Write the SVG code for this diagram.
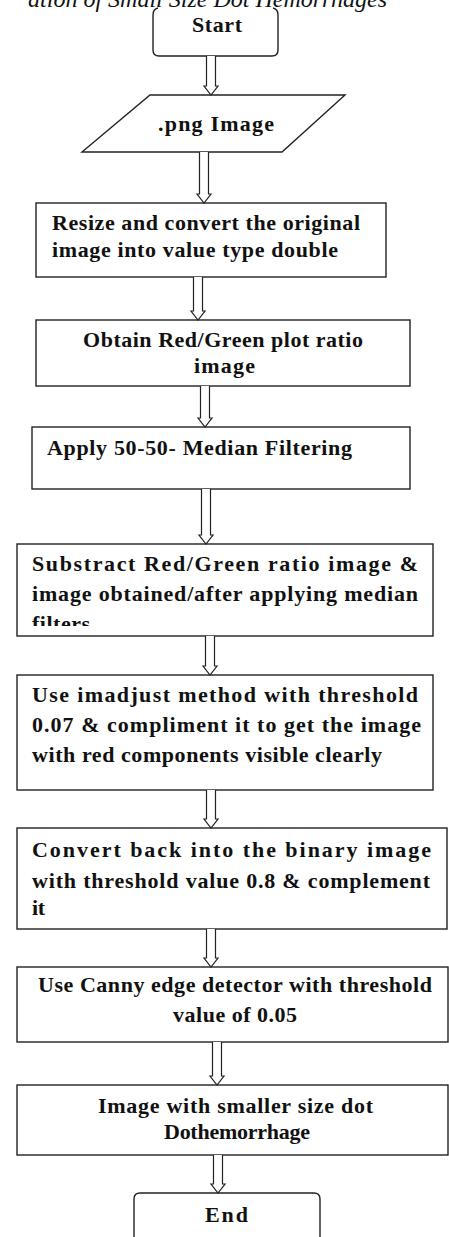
<svg xmlns="http://www.w3.org/2000/svg" width="449" height="1237" viewBox="0 0 449 1237">
<style>
.box{fill:#fff;stroke:#222;stroke-width:1.4}
.t{font-family:"Liberation Serif","Times New Roman",serif;font-weight:bold;font-size:22px;fill:#111}
.arr{fill:#fff;stroke:#222;stroke-width:1.2;stroke-linejoin:miter}
.title{font-family:"Liberation Serif","Times New Roman",serif;font-style:italic;font-size:24px;fill:#111}
</style>
<defs>
<clipPath id="clip4"><rect x="0" y="540" width="449" height="86"/></clipPath>
</defs>
<rect width="449" height="1237" fill="#fff"/>
<text class="title" x="387" y="7" text-anchor="end">ation of Small Size Dot Hemorrhages</text>

<g id="start">
<path class="box" d="M158,8 Q153,9 153,15 V50 Q153,56 159,56 H272 Q278,56 278,50 V15 Q278,9 273,8"/>
<text class="t" x="192" y="32" textLength="50" lengthAdjust="spacing">Start</text>
</g>

<g id="input">
<polygon class="box" points="150,95 345,95 282,152 82,152"/>
<text class="t" x="158" y="131" textLength="116" lengthAdjust="spacing">.png  Image</text>
</g>

<g id="resize">
<rect class="box" x="36" y="203" width="350" height="74"/>
<text class="t" x="52" y="230" textLength="308" lengthAdjust="spacing">Resize and convert the original</text>
<text class="t" x="52" y="257" textLength="286" lengthAdjust="spacing">image into value type double</text>
</g>

<g id="ratio">
<rect class="box" x="36" y="320" width="374" height="66"/>
<text class="t" x="83" y="347" textLength="280" lengthAdjust="spacing">Obtain Red/Green plot ratio</text>
<text class="t" x="194" y="373" textLength="61" lengthAdjust="spacing">image</text>
</g>

<g id="median">
<rect class="box" x="32" y="427" width="378" height="62"/>
<text class="t" x="47" y="455" textLength="305" lengthAdjust="spacing">Apply 50-50- Median Filtering</text>
</g>

<g id="subtract">
<rect class="box" x="17" y="544" width="416" height="92"/>
<text class="t" x="32" y="571" textLength="386" lengthAdjust="spacing">Substract Red/Green ratio image &amp;</text>
<text class="t" x="32" y="601" textLength="386" lengthAdjust="spacing">image obtained/after applying median</text>
<text class="t" x="32" y="631" textLength="58" lengthAdjust="spacing" clip-path="url(#clip4)">filters</text>
</g>

<g id="imadjust">
<rect class="box" x="17" y="675" width="416" height="115"/>
<text class="t" x="32" y="702" textLength="386" lengthAdjust="spacing">Use imadjust method with threshold</text>
<text class="t" x="32" y="732" textLength="389" lengthAdjust="spacing">0.07 &amp; compliment it to get the image</text>
<text class="t" x="32" y="762" textLength="350" lengthAdjust="spacing">with red components visible clearly</text>
</g>

<g id="binary">
<rect class="box" x="17" y="828" width="430" height="101"/>
<text class="t" x="32" y="857" textLength="399" lengthAdjust="spacing">Convert back into the binary image</text>
<text class="t" x="32" y="888" textLength="398" lengthAdjust="spacing">with threshold value 0.8 &amp; complement</text>
<text class="t" x="32" y="915" textLength="13" lengthAdjust="spacing">it</text>
</g>

<g id="canny">
<rect class="box" x="17" y="967" width="431" height="75"/>
<text class="t" x="38" y="992" textLength="394" lengthAdjust="spacing">Use Canny edge detector with threshold</text>
<text class="t" x="173" y="1022" textLength="124" lengthAdjust="spacing">value of 0.05</text>
</g>

<g id="result">
<rect class="box" x="17" y="1085" width="431" height="70"/>
<text class="t" x="98" y="1113" textLength="275" lengthAdjust="spacing">Image with smaller size dot</text>
<text class="t" x="164" y="1139" font-size="19" textLength="146" lengthAdjust="spacing">Dothemorrhage</text>
</g>

<g id="end">
<path class="box" d="M134,1240 V1199 Q134,1193 140,1193 H314 Q320,1193 320,1199 V1240"/>
<text class="t" x="205" y="1222" textLength="43" lengthAdjust="spacing">End</text>
</g>

<g id="connectors">
<path class="arr" d="M206.5,56 V86 H204 L211,95 L218,86 H215.5 V56"/>
<path class="arr" d="M199.5,152 V194 H197 L204,203 L211,194 H208.5 V152"/>
<path class="arr" d="M193.5,277 V311 H191 L198,320 L205,311 H202.5 V277"/>
<path class="arr" d="M200.5,386 V418 H198 L205,427 L212,418 H209.5 V386"/>
<path class="arr" d="M201.5,489 V535 H199 L206,544 L213,535 H210.5 V489"/>
<path class="arr" d="M205.5,636 V666 H203 L210,675 L217,666 H214.5 V636"/>
<path class="arr" d="M206.5,790 V819 H204 L211,828 L218,819 H215.5 V790"/>
<path class="arr" d="M206.5,929 V958 H204 L211,967 L218,958 H215.5 V929"/>
<path class="arr" d="M212.5,1042 V1076 H210 L217,1085 L224,1076 H221.5 V1042"/>
<path class="arr" d="M213.5,1155 V1184 H211 L218,1193 L225,1184 H222.5 V1155"/>
</g>
</svg>
